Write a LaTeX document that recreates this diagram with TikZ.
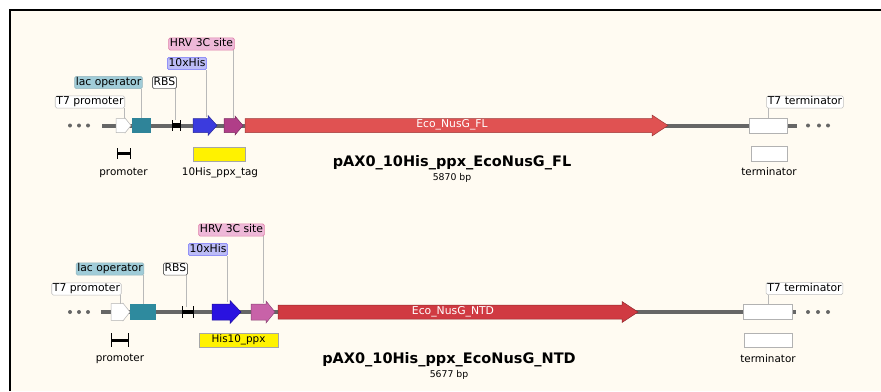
\documentclass[tikz,border=0pt]{standalone}
\usepackage{fontspec}
\setmainfont{DejaVu Sans}
\definecolor{paper}{HTML}{FFFBF2}
\definecolor{bbone}{HTML}{666666}
\definecolor{lacA}{HTML}{2F8499}
\definecolor{lacB}{HTML}{2E8A9E}
\definecolor{hisA}{HTML}{3B3BDE}
\definecolor{hisB}{HTML}{2A12E0}
\definecolor{hrvA}{HTML}{B03E88}
\definecolor{hrvB}{HTML}{C862A8}
\definecolor{cdsA}{HTML}{E05252}
\definecolor{cdsB}{HTML}{D03A42}
\definecolor{lacL}{HTML}{A0CCD8}
\definecolor{hisL}{HTML}{BCBCF6}
\definecolor{hrvL}{HTML}{EEB8D8}
% feature arrow: x1, x2, y, half body, half head, head length, colour
\newcommand{\featarrow}[7]{%
  \filldraw[fill=#7, draw=#7!70!black, line width=0.5pt]
    (#1,#3-#4) -- (#2-#6,#3-#4) -- (#2-#6,#3-#5) -- (#2,#3)
    -- (#2-#6,#3+#5) -- (#2-#6,#3+#4) -- (#1,#3+#4) -- cycle;}
\begin{document}
\begin{tikzpicture}[x=1pt, y=-1pt,
    lbl/.style={rounded corners=1.5pt, line width=0.6pt, inner xsep=1.2pt, inner ysep=1pt,
                text height=8pt, text depth=2.2pt, font=\fontsize{10.8}{11}\selectfont},
    leader/.style={draw=gray!55, line width=0.6pt},
    backbone/.style={draw=bbone, line width=4pt},
    plain/.style={font=\fontsize{10.4}{11}\selectfont},
    title/.style={font=\fontsize{14.5}{15}\selectfont\bfseries},
    size/.style={font=\fontsize{9.3}{10}\selectfont},
    whitebox/.style={draw=gray!60, fill=white, line width=0.6pt}]
  \useasboundingbox (0,0) rectangle (881,391);
  \fill[white] (0,0) rectangle (881,391);
  \fill[paper] (10,10) rectangle (881,391);
  \draw[line width=2pt] (10,391) -- (10,10) -- (881,10);

  %%% first construct
  \foreach \x in {70,79,88,808,819,828} \fill[bbone] (\x,125.5) circle (2);
  \draw[backbone] (102,125.5) -- (797,125.5);
  \filldraw[whitebox] (749,118) rectangle (787,133);
  \featarrow{116}{131}{125.5}{7}{7.5}{6}{white}
  \fill[lacA] (132,118) rectangle (151,133);
  \draw[line width=4.5pt] (172,125.5) -- (180,125.5);
  \draw[line width=0.6pt] (172,120) -- (172,131) (180,120) -- (180,131);
  \featarrow{193}{217}{125.5}{7}{10}{9}{hisA}
  \featarrow{224}{243}{125.5}{7}{9.5}{8}{hrvA}
  \featarrow{245}{668}{125.5}{7}{10.5}{16}{cdsA}
  \node[plain, font=\fontsize{10.8}{11}\selectfont, text=white] (cdsa) at (452,125) {Eco\_NusG\_FL};

  \coordinate (ft7a) at (124,118);
  \coordinate (flaca) at (141.7,118);
  \coordinate (frbsa) at (175,120);
  \coordinate (fhisa) at (206,117);
  \coordinate (fhrva) at (233,118);
  \coordinate (ftrma) at (768,118);

  \node[lbl, draw=gray!50, fill=white] (lt7a) at (90,102) {T7 promoter};
  \node[lbl, draw=lacL!70!gray, fill=lacL] (llaca) at (108.5,82.5) {lac operator};
  \node[lbl, draw=gray!80!black, fill=white] (lrbsa) at (164.5,82.5) {RBS};
  \node[lbl, draw=hisL!60!blue, fill=hisL] (lhisa) at (187,63.5) {10xHis};
  \node[lbl, draw=hrvL!70!purple, fill=hrvL] (lhrva) at (201.5,44) {HRV 3C site};
  \node[lbl, draw=gray!50, fill=white] (ltrma) at (805,102) {T7 terminator};

  \foreach \f/\l in {ft7a/lt7a, flaca/llaca, frbsa/lrbsa, fhisa/lhisa, fhrva/lhrva, ftrma/ltrma}
    \draw[leader] (\f) -- (\f |- \l.south);

  \draw[line width=3pt] (117,153) -- (130,153);
  \draw[line width=0.8pt] (117,148) -- (117,159) (130,148) -- (130,159);
  \node[plain] (proma) at (123.5,173) {promoter};
  \node[draw=gray!70, fill=yellow, line width=0.6pt, minimum width=52pt, minimum height=14pt, inner sep=0pt] (taga) at (219,154) {};
  \node[plain] (tagtxta) at (220,173) {10His\_ppx\_tag};
  \node[whitebox, minimum width=36pt, minimum height=15pt, inner sep=0pt] (trmbxa) at (769,153.5) {};
  \node[plain] (trma) at (769,172) {terminator};
  \node[title] (namea) at (452,163) {pAX0\_10His\_ppx\_EcoNusG\_FL};
  \node[size] (bpa) at (452,177.5) {5870 bp};

  %%% second construct
  \foreach \x in {70,79,88,808,818,828} \fill[bbone] (\x,312) circle (2);
  \draw[backbone] (101,312) -- (796,312);
  \filldraw[whitebox] (743,304) rectangle (792,319.5);
  \featarrow{111}{130}{312}{8.3}{8.8}{7}{white}
  \fill[lacB] (130,304) rectangle (156,320);
  \draw[line width=4.5pt] (182,312) -- (193,312);
  \draw[line width=0.6pt] (182,306) -- (182,318) (193,306) -- (193,318);
  \featarrow{212}{241}{312}{8}{11.5}{11}{hisB}
  \featarrow{251}{275}{312}{8}{11}{9}{hrvB}
  \featarrow{278}{638}{312}{7}{10.5}{16}{cdsB}
  \node[plain, font=\fontsize{10.8}{11}\selectfont, text=white] (cdsb) at (453,312) {Eco\_NusG\_NTD};

  \coordinate (ft7b) at (120,304);
  \coordinate (flacb) at (143,304);
  \coordinate (frbsb) at (186,307);
  \coordinate (fhisb) at (227,302);
  \coordinate (fhrvb) at (263,303);
  \coordinate (ftrmb) at (768,304);

  \node[lbl, draw=gray!50, fill=white] (lt7b) at (86.5,289) {T7 promoter};
  \node[lbl, draw=lacL!70!gray, fill=lacL] (llacb) at (110,269) {lac operator};
  \node[lbl, draw=gray!80!black, fill=white] (lrbsb) at (175.5,269) {RBS};
  \node[lbl, draw=hisL!60!blue, fill=hisL] (lhisb) at (208,249.5) {10xHis};
  \node[lbl, draw=hrvL!70!purple, fill=hrvL] (lhrvb) at (231.5,230) {HRV 3C site};
  \node[lbl, draw=gray!50, fill=white] (ltrmb) at (804.5,288.5) {T7 terminator};

  \foreach \f/\l in {ft7b/lt7b, flacb/llacb, frbsb/lrbsb, fhisb/lhisb, fhrvb/lhrvb, ftrmb/ltrmb}
    \draw[leader] (\f) -- (\f |- \l.south);

  \draw[line width=3pt] (111,340) -- (128,340);
  \draw[line width=0.8pt] (111,333) -- (111,347) (128,333) -- (128,347);
  \node[plain] (promb) at (120,359) {promoter};
  \node[draw=gray!70, fill=yellow, line width=0.6pt, minimum width=79pt, minimum height=14pt, inner sep=0pt, plain] (tagb) at (238.5,340) {His10\_ppx};
  \node[whitebox, minimum width=48pt, minimum height=14pt, inner sep=0pt] (trmbxb) at (768,340) {};
  \node[plain] (trmb) at (768,359) {terminator};
  \node[title] (nameb) at (449,360) {pAX0\_10His\_ppx\_EcoNusG\_NTD};
  \node[size] (bpb) at (449,374.5) {5677 bp};
\end{tikzpicture}
\end{document}
